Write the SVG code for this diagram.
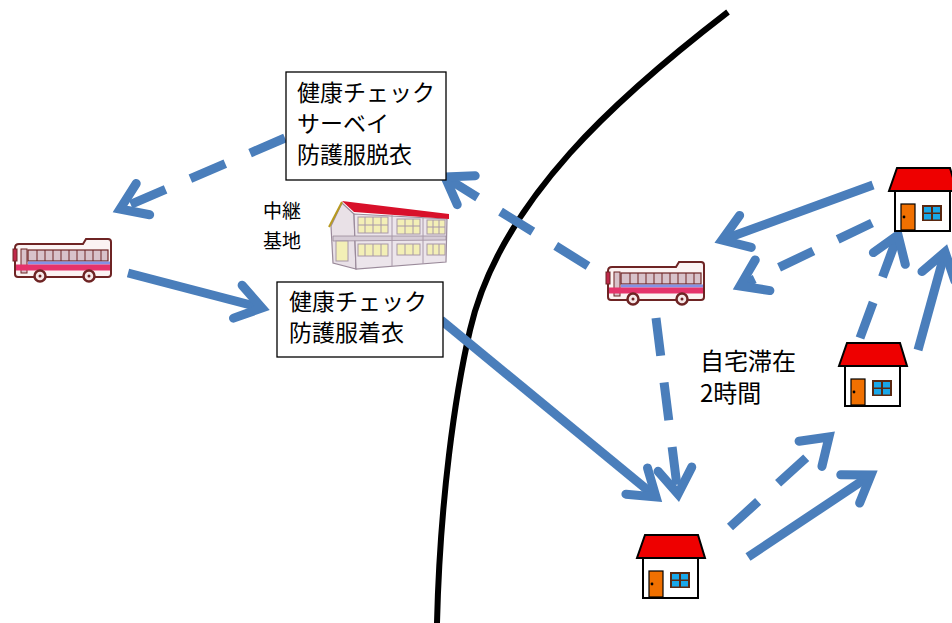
<svg xmlns="http://www.w3.org/2000/svg" width="952" height="623" viewBox="0 0 952 623">
<style>
  .lbl { font-family: "Noto Sans CJK JP", "Noto Sans", sans-serif; fill: #000; }
  .box { fill: #fff; stroke: #000; stroke-width: 1.3; }
  .arw { fill: none; stroke: #4a7ebb; stroke-width: 9; }
  .dash { stroke-dasharray: 38 27; }
  .head { fill: none; stroke: #4a7ebb; stroke-width: 9; stroke-linejoin: miter; stroke-miterlimit: 10; stroke-linecap: round; }
  .hs { stroke: #000; stroke-width: 2; }
</style>
<defs>
  <marker id="chev" markerUnits="userSpaceOnUse" orient="auto" overflow="visible" refX="0" refY="0" markerWidth="60" markerHeight="60">
    <path class="head" d="M-25,-17 L0,0 L-25,17"/>
  </marker>

  <!-- coach bus, 100 x 45 -->
  <g id="bus">
    <path d="M6,7 L70,7 L73,2 L95,2 Q98,2 98,5 L98,37 Q98,40 95,40 L5,40 Q2,40 2,37 L2,11 Q2,7 6,7 Z" fill="#fbf3f3" stroke="#6e2424" stroke-width="2"/>
    <rect x="15" y="13" width="80" height="11" fill="#d8c2ca" stroke="#6e2424" stroke-width="1.2"/>
    <g stroke="#6e2424" stroke-width="1">
      <line x1="24" y1="13" x2="24" y2="24"/><line x1="32" y1="13" x2="32" y2="24"/>
      <line x1="40" y1="13" x2="40" y2="24"/><line x1="48" y1="13" x2="48" y2="24"/>
      <line x1="56" y1="13" x2="56" y2="24"/><line x1="64" y1="13" x2="64" y2="24"/>
      <line x1="72" y1="13" x2="72" y2="24"/><line x1="80" y1="13" x2="80" y2="24"/>
      <line x1="88" y1="13" x2="88" y2="24"/>
    </g>
    <rect x="8" y="12" width="6" height="24" fill="#d8c2ca" stroke="#6e2424" stroke-width="1"/>
    <rect x="15" y="24.5" width="82" height="3" fill="#8491e6"/>
    <rect x="3" y="27.5" width="94" height="6" fill="#e5336b"/>
    <rect x="0" y="12" width="4" height="12" fill="#c0284a" stroke="#6e2424" stroke-width="1"/>
    <circle cx="27" cy="39" r="5.5" fill="#f6e8e8" stroke="#6e2424" stroke-width="2.5"/>
    <circle cx="76" cy="39" r="5.5" fill="#f6e8e8" stroke="#6e2424" stroke-width="2.5"/>
    <circle cx="27" cy="39" r="1.5" fill="#6e2424"/>
    <circle cx="76" cy="39" r="1.5" fill="#6e2424"/>
  </g>

  <!-- small house, origin at the roof's top-left corner -->
  <g id="house">
    <rect x="-2" y="23" width="55" height="40" fill="#fff" class="hs"/>
    <polygon points="0,0 53,0 60,23 -8,23" fill="#ee0000" class="hs"/>
    <rect x="4" y="36" width="14" height="26" fill="#f07000" stroke="#000" stroke-width="1.2"/>
    <circle cx="7" cy="49" r="1.4" fill="#000"/>
    <rect x="25" y="37" width="20" height="16" fill="#5a2810"/>
    <rect x="27" y="39" width="7" height="5.5" fill="#19a7e8"/>
    <rect x="36" y="39" width="7" height="5.5" fill="#19a7e8"/>
    <rect x="27" y="46" width="7" height="5.5" fill="#19a7e8"/>
    <rect x="36" y="46" width="7" height="5.5" fill="#19a7e8"/>
  </g>
</defs>

<!-- boundary line -->
<path id="boundary" d="M728,12 C620,95 500,200 470,330 C455,395 440,500 437,623" fill="none" stroke="#000" stroke-width="6"/>

<!-- connectors -->
<g id="connectors">
  <path class="arw dash" d="M285,138 L120,209" marker-end="url(#chev)"/>
  <path class="arw" d="M128,273 L262,308" marker-end="url(#chev)"/>
  <path class="arw dash" d="M588,266 L445,177" marker-end="url(#chev)"/>
  <path class="arw" d="M441,320 L656,497" marker-end="url(#chev)"/>
  <path class="arw dash" d="M656,318 L678,494" marker-end="url(#chev)"/>
  <path class="arw" d="M873,185 L722,240" marker-end="url(#chev)"/>
  <path class="arw dash" d="M872,223 L740,286" marker-end="url(#chev)"/>
  <path class="arw dash" d="M730,527 L829,437" marker-end="url(#chev)"/>
  <path class="arw" d="M748,557 L871,475" marker-end="url(#chev)"/>
  <path class="arw dash" d="M860,338 L898,235" marker-end="url(#chev)"/>
  <path class="arw" d="M918,350 L945,252" marker-end="url(#chev)"/>
</g>

<!-- checkpoint box: checks, survey, protective clothing off -->
<g id="box-doff">
  <rect class="box" x="286" y="72" width="160" height="108"/>
  <text class="lbl" font-size="23" x="297" y="101">健康チェック</text>
  <text class="lbl" font-size="23" x="297" y="132">サーベイ</text>
  <text class="lbl" font-size="23" x="297" y="163">防護服脱衣</text>
</g>

<!-- checkpoint box: checks, protective clothing on -->
<g id="box-don">
  <rect class="box" x="277" y="282" width="166" height="75"/>
  <text class="lbl" font-size="23" x="289" y="310">健康チェック</text>
  <text class="lbl" font-size="23" x="289" y="341">防護服着衣</text>
</g>

<!-- relay base -->
<g id="relay-base">
  <text class="lbl" font-size="19" x="263" y="218">中継</text>
  <text class="lbl" font-size="19" x="263" y="248">基地</text>
  <g id="building">
    <polygon points="331,226 342,203 354,214 356,269 333,263" fill="#e9e1e7" stroke="#9a8a9a" stroke-width="1.2"/>
    <polygon points="354,214 447,219 446,262 356,269" fill="#ece5eb" stroke="#9a8a9a" stroke-width="1.2"/>
    <polygon points="342,201 449,214 449,219 354,212" fill="#d8102a"/>
    <line x1="329" y1="227" x2="342" y2="202" stroke="#b89a20" stroke-width="2"/>
    <polygon points="333,236 446,236 446,240 333,241" fill="#d6ccd6" stroke="#9a8a9a" stroke-width="0.8"/>
    <g fill="#f3efb6" stroke="#a898a8" stroke-width="1">
      <rect x="358" y="217" width="30" height="16"/>
      <rect x="397" y="219" width="23" height="15"/>
      <rect x="427" y="220" width="18" height="14"/>
      <rect x="358" y="244" width="30" height="12"/>
      <rect x="397" y="244" width="23" height="11"/>
      <rect x="427" y="244" width="18" height="11"/>
      <rect x="336" y="241" width="12" height="20"/>
    </g>
    <g stroke="#a898a8" stroke-width="1">
      <line x1="365" y1="217" x2="365" y2="233"/><line x1="373" y1="217" x2="373" y2="233"/><line x1="381" y1="217" x2="381" y2="233"/>
      <line x1="358" y1="225" x2="388" y2="225"/>
      <line x1="405" y1="219" x2="405" y2="234"/><line x1="413" y1="219" x2="413" y2="234"/>
      <line x1="397" y1="226" x2="420" y2="226"/>
      <line x1="433" y1="220" x2="433" y2="234"/><line x1="439" y1="220" x2="439" y2="234"/>
      <line x1="427" y1="227" x2="445" y2="227"/>
      <line x1="365" y1="244" x2="365" y2="256"/><line x1="373" y1="244" x2="373" y2="256"/><line x1="381" y1="244" x2="381" y2="256"/>
      <line x1="405" y1="244" x2="405" y2="255"/><line x1="413" y1="244" x2="413" y2="255"/>
      <line x1="433" y1="244" x2="433" y2="255"/><line x1="439" y1="244" x2="439" y2="255"/>
      <line x1="392" y1="215" x2="392" y2="266"/><line x1="423" y1="217" x2="423" y2="264"/>
    </g>
  </g>
</g>

<g id="bus-left"><use href="#bus" transform="translate(13,237)"/></g>
<g id="bus-right"><use href="#bus" transform="translate(606,260)"/></g>

<g id="house-bottom"><use href="#house" transform="translate(645,535)"/></g>
<g id="house-middle"><use href="#house" transform="translate(847,343)"/></g>
<g id="house-top"><use href="#house" transform="translate(897,168)"/></g>

<g id="stay-label">
  <text class="lbl" font-size="24" x="700" y="370">自宅滞在</text>
  <text class="lbl" font-size="24" x="700" y="402">2時間</text>
</g>
</svg>
